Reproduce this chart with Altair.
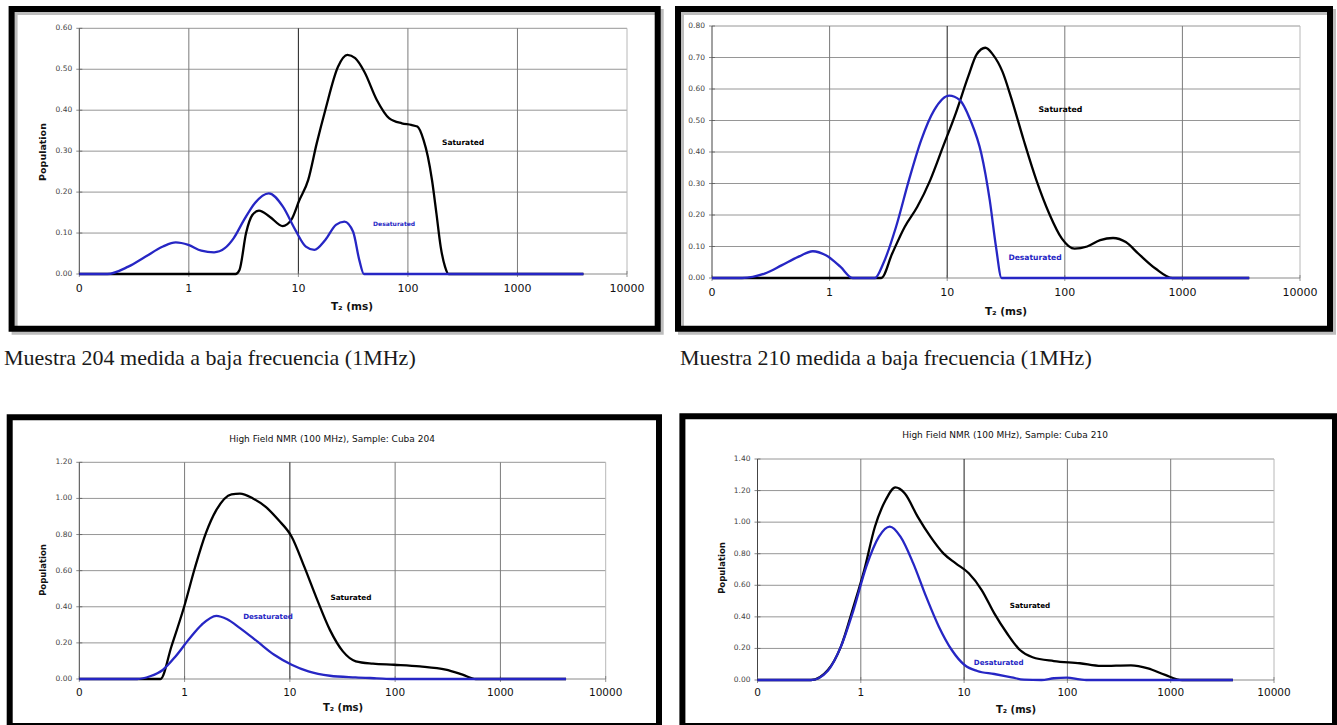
import altair as alt
import pandas as pd

W, H = 1337, 725

# ---------------- data ----------------
X_MIN, X_MAX = 0.1, 10000
X_TICKS = [0.1, 1, 10, 100, 1000, 10000]
X_TICK_LABELS = ["0", "1", "10", "100", "1000", "10000"]
X_GRID = [1, 10, 100, 1000]
SERIES = ["Saturated", "Desaturated"]
X_TITLE = "T\u2082 (ms)"
Y_TITLE = "Population"
TITLE_204 = "High Field NMR (100 MHz), Sample: Cuba 204"
TITLE_210 = "High Field NMR (100 MHz), Sample: Cuba 210"
CAPTION_204 = "Muestra 204 medida a baja frecuencia (1MHz)"
CAPTION_210 = "Muestra 210 medida a baja frecuencia (1MHz)"

# Panel 1 : sample 204, 1 MHz
p1_sat_t = [0.1, 2.67, 2.9, 3.33, 3.8, 4.37, 5.47, 7.2, 8.6, 10.2, 12.3, 14.7, 17.6, 23, 28, 33, 40, 52,
            67.6, 88, 107, 122, 139, 152, 166, 182, 199, 218, 235, 4000]
p1_sat_v = [0, 0, 0.01, 0.10, 0.144, 0.155, 0.14, 0.117, 0.132, 0.18, 0.23, 0.319, 0.40, 0.506, 0.535, 0.527,
            0.494, 0.425, 0.38, 0.368, 0.364, 0.36, 0.327, 0.287, 0.229, 0.148, 0.067, 0.018, 0, 0]
p1_des_t = [0.1, 0.18, 0.28, 0.40, 0.58, 0.76, 0.99, 1.3, 1.7, 2.13, 2.56, 3.19, 4.0, 5.37, 7.2, 9.4, 11.7,
            14, 17.6, 22, 26.3, 31.6, 36, 39.7, 4000]
p1_des_v = [0, 0, 0.018, 0.042, 0.067, 0.077, 0.071, 0.057, 0.053, 0.063, 0.087, 0.132, 0.173, 0.197, 0.165,
            0.107, 0.067, 0.059, 0.083, 0.12, 0.128, 0.103, 0.034, 0, 0]
p1_ann_t = [319, 74.8]
p1_ann_v = [0.32, 0.122]

# Panel 2 : sample 210, 1 MHz
p2_sat_t = [0.1, 2.75, 3.4, 4.35, 5.57, 7.16, 9.2, 11.8, 15.1, 17.8, 21.1, 24.4, 29.5, 34.8, 44.7, 57.4,
            73.6, 94.5, 121, 155, 200, 257, 330, 423, 590, 822, 3700]
p2_sat_v = [0, 0, 0.077, 0.162, 0.226, 0.31, 0.416, 0.522, 0.64, 0.71, 0.731, 0.71, 0.655, 0.575, 0.438,
            0.31, 0.205, 0.125, 0.093, 0.10, 0.12, 0.127, 0.114, 0.077, 0.03, 0, 0]
p2_des_t = [0.1, 0.18, 0.28, 0.39, 0.54, 0.72, 0.93, 1.24, 1.57, 2.43, 2.86, 3.67, 4.72, 6.0, 7.75, 10.4,
            12.8, 15.8, 19.5, 23, 26, 29, 3700]
p2_des_v = [0, 0, 0.014, 0.04, 0.067, 0.085, 0.072, 0.035, 0, 0, 0.046, 0.162, 0.31, 0.437, 0.533, 0.579,
            0.565, 0.50, 0.395, 0.247, 0.099, 0, 0]
p2_ann_t = [91.8, 55.8]
p2_ann_v = [0.533, 0.063]

# Panel 3 : sample 204, 100 MHz
p3_sat_t = [0.1, 0.59, 0.75, 0.99, 1.26, 1.59, 2.0, 2.79, 3.36, 4.46, 5.9, 7.8, 10.4, 13.7, 18.2, 24, 31.9,
            42.3, 61.6, 98, 172, 302, 437, 583, 4200]
p3_sat_v = [0, 0, 0.18, 0.40, 0.62, 0.806, 0.935, 1.023, 1.027, 1.0, 0.953, 0.88, 0.788, 0.622, 0.438, 0.272,
            0.153, 0.098, 0.085, 0.079, 0.07, 0.052, 0.024, 0, 0]
p3_des_t = [0.1, 0.355, 0.47, 0.62, 0.82, 1.09, 1.45, 2.0, 2.54, 3.36, 4.9, 7.1, 10.4, 15, 24, 42, 67, 98, 4200]
p3_des_v = [0, 0, 0.015, 0.05, 0.125, 0.217, 0.30, 0.35, 0.331, 0.282, 0.208, 0.134, 0.079, 0.042, 0.018,
            0.009, 0.004, 0, 0]
p3_ann_t = [38, 6.2]
p3_ann_v = [0.448, 0.343]

# Panel 4 : sample 210, 100 MHz
p4_sat_t = [0.1, 0.33, 0.48, 0.64, 0.85, 1.08, 1.37, 1.74, 2.16, 2.67, 3.55, 4.72, 6.3, 8.3, 11.1, 14.8, 19.6,
            26, 34.7, 46, 74, 132, 212, 412, 603, 883, 1290, 4000]
p4_sat_v = [0, 0, 0.063, 0.21, 0.465, 0.697, 0.971, 1.14, 1.22, 1.182, 1.035, 0.908, 0.802, 0.739, 0.676,
            0.57, 0.422, 0.296, 0.19, 0.144, 0.12, 0.106, 0.089, 0.093, 0.074, 0.032, 0, 0]
p4_des_t = [0.1, 0.33, 0.48, 0.64, 0.85, 1.13, 1.5, 1.91, 2.42, 3.22, 4.29, 5.7, 7.6, 10.1, 13.4, 19.6, 28.8,
            38, 56, 74, 99, 132, 152, 4000]
p4_des_v = [0, 0, 0.059, 0.21, 0.443, 0.718, 0.908, 0.971, 0.908, 0.739, 0.528, 0.338, 0.19, 0.095, 0.057,
            0.038, 0.017, 0.002, 0, 0.011, 0.015, 0.004, 0, 0]
p4_ann_t = [43.5, 21.6]
p4_ann_v = [0.469, 0.108]

# ---------------- layout / style (pixels) ----------------
SAT_COLOR = "#000000"
DES_COLOR = "#2626c4"
FONT = "DejaVu Sans"

G1 = dict(xr=[79.3, 627], yr=[274, 28.3], ymax=0.6, ystep=0.1, xt=(352, 307), yt=(43, 152), ytitle=True,
          xldy=15, xlfs=11, ytfs=9.5, xtfs=10.5, afs=(7.5, 6))
G2 = dict(xr=[712, 1300], yr=[278, 26], ymax=0.8, ystep=0.1, xt=(1006, 312), yt=(690, 152), ytitle=False,
          xldy=15, xlfs=11, ytfs=9.5, xtfs=10.5, afs=(7.8, 7.6))
G3 = dict(xr=[79.3, 605.7], yr=[679, 462.3], ymax=1.2, ystep=0.2, xt=(343, 708), yt=(43, 570), ytitle=True,
          xldy=14, xlfs=10.5, ytfs=8.5, xtfs=10, afs=(7.3, 7.1))
G4 = dict(xr=[757.5, 1274], yr=[680, 459], ymax=1.4, ystep=0.2, xt=(1016, 710), yt=(722, 568), ytitle=True,
          xldy=13, xlfs=10.5, ytfs=8.5, xtfs=10, afs=(7.2, 7.1))

one = pd.DataFrame({"k": [0]})


def text_at(txt, x, y, align, font, size, weight="normal", color="#111", angle=0):
    return alt.Chart(one).mark_text(align=align, baseline="middle", font=font, fontSize=size,
                                    fontWeight=weight, color=color, angle=angle).encode(
        x=alt.value(x), y=alt.value(y), text=alt.value(txt))


def panel(g, sat_t, sat_v, des_t, des_v, ann_t, ann_v):
    xs = alt.Scale(type="log", domain=[X_MIN, X_MAX], range=g["xr"], nice=False)
    ys = alt.Scale(domain=[0, g["ymax"]], range=g["yr"], nice=False)
    n = int(round(g["ymax"] / g["ystep"]))
    yticks = [round(i * g["ystep"], 2) for i in range(n + 1)]
    ylabels = [f"{v:.2f}" for v in yticks]

    def X(f):
        return alt.X(f, scale=xs, axis=None)

    def Y(f):
        return alt.Y(f, scale=ys, axis=None)

    hgrid = alt.Chart(pd.DataFrame({"v": yticks[1:], "xa": X_MIN, "xb": X_MAX})).mark_rule(
        color="#969696", strokeWidth=1).encode(x=X("xa:Q"), x2="xb:Q", y=Y("v:Q"))
    vgrid = alt.Chart(pd.DataFrame({"t": X_GRID, "ya": 0, "yb": g["ymax"]})).mark_rule(strokeWidth=1).encode(
        x=X("t:Q"), y=Y("ya:Q"), y2="yb:Q",
        color=alt.condition("datum.t == 10", alt.value("#1e1e1e"), alt.value("#7a7a7a")))
    vend = alt.Chart(pd.DataFrame({"t": [X_MAX], "ya": 0, "yb": g["ymax"]})).mark_rule(
        color="#b8b8b8", strokeWidth=1).encode(x=X("t:Q"), y=Y("ya:Q"), y2="yb:Q")

    # axis lines, ticks and labels drawn through the panel's scales
    xdomain = alt.Chart(pd.DataFrame({"v": [0], "xa": X_MIN, "xb": X_MAX})).mark_rule(
        color="#8a8a8a", strokeWidth=1).encode(x=X("xa:Q"), x2="xb:Q", y=Y("v:Q"))
    ydomain = alt.Chart(pd.DataFrame({"t": [X_MIN], "ya": 0, "yb": g["ymax"]})).mark_rule(
        color="#444444", strokeWidth=1).encode(x=X("t:Q"), y=Y("ya:Q"), y2="yb:Q")
    xtick = alt.Chart(pd.DataFrame({"t": X_TICKS, "v": 0})).mark_tick(
        orient="vertical", size=6, thickness=1, color="#666666").encode(x=X("t:Q"), y=Y("v:Q"))
    ytick = alt.Chart(pd.DataFrame({"v": yticks, "t": X_MIN})).mark_tick(
        orient="horizontal", size=6, thickness=1, color="#555555").encode(x=X("t:Q"), y=Y("v:Q"))
    xlab = alt.Chart(pd.DataFrame({"t": X_TICKS, "v": 0, "lab": X_TICK_LABELS})).mark_text(
        font=FONT, fontSize=g["xlfs"], color="#111111", align="center", baseline="middle", dy=g["xldy"]).encode(
        x=X("t:Q"), y=Y("v:Q"), text="lab:N")
    ylab = alt.Chart(pd.DataFrame({"v": yticks, "t": X_MIN, "lab": ylabels})).mark_text(
        font=FONT, fontSize=7.5, color="#444444", align="right", baseline="middle", dx=-7).encode(
        x=X("t:Q"), y=Y("v:Q"), text="lab:N")

    sat = alt.Chart(pd.DataFrame({"t": sat_t, "v": sat_v})).mark_line(
        color=SAT_COLOR, strokeWidth=2.3, interpolate="monotone").encode(x=X("t:Q"), y=Y("v:Q"))
    des = alt.Chart(pd.DataFrame({"t": des_t, "v": des_v})).mark_line(
        color=DES_COLOR, strokeWidth=2.3, interpolate="monotone").encode(x=X("t:Q"), y=Y("v:Q"))

    sat_lab = alt.Chart(pd.DataFrame({"t": [ann_t[0]], "v": [ann_v[0]], "label": [SERIES[0]]})).mark_text(
        font=FONT, fontWeight="bold", fontSize=g["afs"][0], color=SAT_COLOR, align="center", baseline="middle").encode(
        x=X("t:Q"), y=Y("v:Q"), text="label:N")
    des_lab = alt.Chart(pd.DataFrame({"t": [ann_t[1]], "v": [ann_v[1]], "label": [SERIES[1]]})).mark_text(
        font=FONT, fontWeight="bold", fontSize=g["afs"][1], color=DES_COLOR, align="center", baseline="middle").encode(
        x=X("t:Q"), y=Y("v:Q"), text="label:N")

    layers = [hgrid, vgrid, vend, xdomain, ydomain, xtick, ytick, xlab, ylab, sat, des, sat_lab, des_lab,
              text_at(X_TITLE, g["xt"][0], g["xt"][1], "center", FONT, g["xtfs"], "bold")]
    if g["ytitle"]:
        layers.append(text_at(Y_TITLE, g["yt"][0], g["yt"][1], "center", FONT, g["ytfs"], "bold", angle=270))
    return alt.layer(*layers)


def frame(x0, x1, y0, y1, color, sw):
    return alt.Chart(one).mark_rect(fill="transparent", stroke=color, strokeWidth=sw).encode(
        x=alt.value(x0), x2=alt.value(x1), y=alt.value(y0), y2=alt.value(y1))


decor = [
    frame(14.6, 660.7, 12, 331.7, "#bdbdbd", 6),
    frame(681, 1333, 12, 331.7, "#bdbdbd", 6),
    frame(11.6, 657.7, 9, 328.7, "#000000", 6),
    frame(678, 1330, 9, 328.7, "#000000", 6),
    frame(9.7, 659, 417.3, 726, "#000000", 6),
    frame(682.4, 1335, 416.3, 726, "#000000", 6),
]

p1 = panel(G1, p1_sat_t, p1_sat_v, p1_des_t, p1_des_v, p1_ann_t, p1_ann_v)
p2 = panel(G2, p2_sat_t, p2_sat_v, p2_des_t, p2_des_v, p2_ann_t, p2_ann_v)
p3 = panel(G3, p3_sat_t, p3_sat_v, p3_des_t, p3_des_v, p3_ann_t, p3_ann_v)
p4 = panel(G4, p4_sat_t, p4_sat_v, p4_des_t, p4_des_v, p4_ann_t, p4_ann_v)

texts = [
    text_at(TITLE_204, 332, 439, "center", FONT, 9),
    text_at(TITLE_210, 1005, 435, "center", FONT, 9),
    text_at(CAPTION_204, 4, 358, "left", "Liberation Serif", 22, color="#1a1a1a"),
    text_at(CAPTION_210, 680, 358, "left", "Liberation Serif", 22, color="#1a1a1a"),
]

chart = alt.layer(*decor, p1, p2, p3, p4, *texts).resolve_scale(
    x="independent", y="independent"
).properties(
    width=W, height=H, padding=0, autosize=alt.AutoSizeParams(type="none")
).configure_view(stroke="transparent")

chart.save("out.html", embed_options={"renderer": "svg", "actions": False})
